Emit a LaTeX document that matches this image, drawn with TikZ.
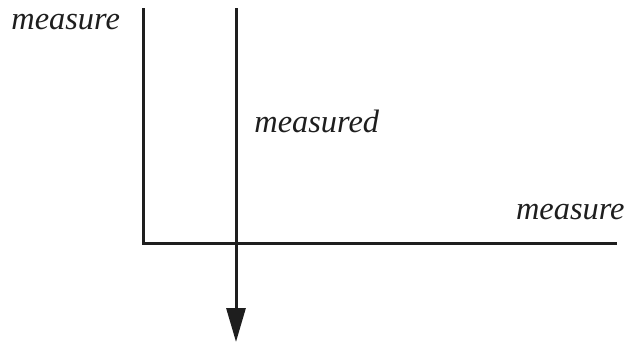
\documentclass[tikz,border=0pt]{standalone}
\usepackage{fontspec}
\setmainfont{Liberation Serif}
\newfontfamily\labelfont{Liberation Serif Italic}
\usepackage{tikz}
\usetikzlibrary{arrows.meta}
\definecolor{inkgray}{RGB}{30,30,30}
\tikzset{
  axisline/.style={
    draw=inkgray,
    line width=1.5pt
  },
  flowarrow/.style={
    draw=inkgray,
    line width=1.5pt,
    -{Triangle[length=17pt, width=9.5pt]}
  },
  lbl/.style={
    font=\fontsize{16.2}{19}\labelfont,
    text=inkgray,
    anchor=base west,
    inner sep=0pt
  }
}
\begin{document}
\begin{tikzpicture}[x=0.5pt, y=-0.5pt]
\useasboundingbox (0,0) rectangle (626,343);

\coordinate (ytop) at (143,8);
\coordinate (origin) at (143,243);
\coordinate (xend) at (617,243);
\coordinate (ftop) at (236,8);
\coordinate (fend) at (236,342);

\node[lbl] (ylabel) at (11,29) {measure};
\node[lbl] (flabel) at (254,132) {measured};
\node[lbl, anchor=base east] (xlabel) at (625,219) {measure};

\draw[axisline] (ytop) -- (origin) -- (xend);
\draw[flowarrow] (ftop) -- (fend);
\end{tikzpicture}
\end{document}
